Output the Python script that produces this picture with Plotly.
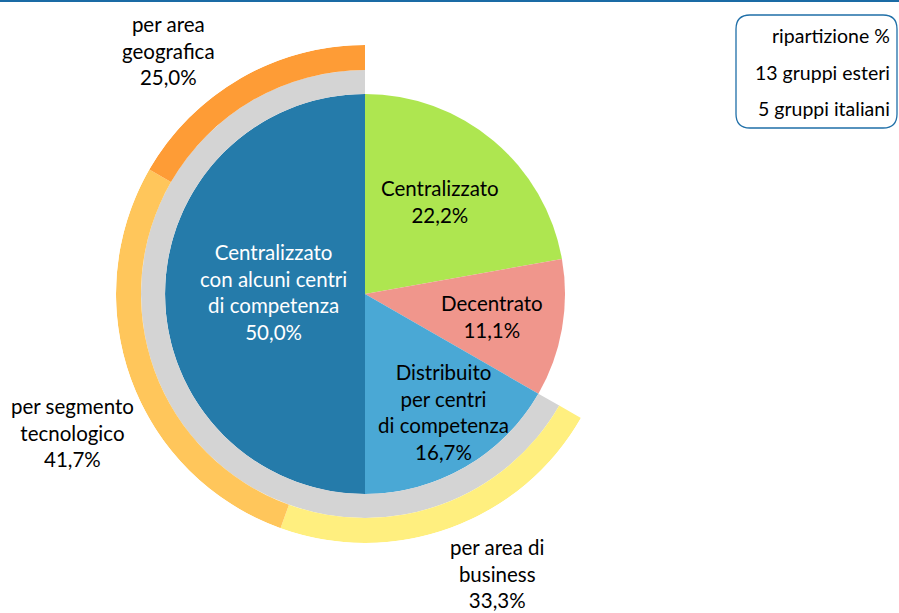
import plotly.graph_objects as go

# Inner pie: organisational model of the groups (share %)
inner_labels = ["Centralizzato", "Decentrato", "Distribuito<br>per centri<br>di competenza",
                "Centralizzato<br>con alcuni centri<br>di competenza"]
inner_values = [22.2, 11.1, 16.7, 50.0]
inner_colors = ["#AEE650", "#F0968C", "#4AA8D5", "#257BAA"]

# Outer ring: breakdown of the competence centres (share %)
outer_labels = ["per area di<br>business", "per segmento<br>tecnologico", "per area<br>geografica"]
outer_values = [33.3, 41.7, 25.0]
outer_colors = ["#FFEF7F", "#FFC65B", "#FE9C36"]

legend_lines = ["ripartizione %", "13 gruppi esteri", "5 gruppi italiani"]

W, H = 899, 613
FONT = "Lato"
LABEL_SIZE = 20.5

# geometry (pixels)
CX, CY = 365, 294
R_PIE, R_GRAY, R_OUT = 200, 224, 249


def px(x):
    return x / W


def py(y):
    return 1 - y / H


def fmt(v):
    return f"{v:.1f}".replace(".", ",") + "%"


fig = go.Figure()

# inner slices, clockwise from 12 o'clock
start = 0.0
inner_theta, inner_width = [], []
for v in inner_values:
    w = v / 100 * 360
    inner_theta.append(start + w / 2)
    inner_width.append(w)
    start += w

fig.add_trace(go.Barpolar(
    r=[R_PIE] * len(inner_values), theta=inner_theta, width=inner_width,
    marker=dict(color=inner_colors, line=dict(width=0)),
    hoverinfo="skip", showlegend=False,
))

# grey ring over the slices that use competence centres
arc_start = sum(inner_values[:2]) / 100 * 360
arc_span = 360 - arc_start
fig.add_trace(go.Barpolar(
    r=[R_GRAY - R_PIE], base=[R_PIE], theta=[arc_start + arc_span / 2], width=[arc_span],
    marker=dict(color="#D4D4D4", line=dict(width=0)),
    hoverinfo="skip", showlegend=False,
))

# outer ring split in the same arc
tot = sum(outer_values)
s = arc_start
outer_theta, outer_width = [], []
for v in outer_values:
    w = v / tot * arc_span
    outer_theta.append(s + w / 2)
    outer_width.append(w)
    s += w

fig.add_trace(go.Barpolar(
    r=[R_OUT - R_GRAY] * len(outer_values), base=[R_GRAY] * len(outer_values),
    theta=outer_theta, width=outer_width,
    marker=dict(color=outer_colors, line=dict(width=0)),
    hoverinfo="skip", showlegend=False,
))

fig.update_layout(
    width=W, height=H,
    margin=dict(l=0, r=0, t=0, b=0),
    paper_bgcolor="white",
    plot_bgcolor="white",
    font=dict(family=FONT, size=LABEL_SIZE, color="black"),
    polar=dict(
        domain=dict(x=[px(CX - R_OUT), px(CX + R_OUT)], y=[py(CY + R_OUT), py(CY - R_OUT)]),
        bgcolor="rgba(0,0,0,0)",
        bargap=0,
        radialaxis=dict(visible=False, range=[0, R_OUT]),
        angularaxis=dict(visible=False, direction="clockwise", rotation=90),
    ),
)

# slice labels
inner_pos = [(440, 201), (492, 316), (443, 412), (273, 292)]
inner_font = ["black", "black", "black", "white"]
for lab, v, (x, y), c in zip(inner_labels, inner_values, inner_pos, inner_font):
    fig.add_annotation(x=px(x), y=py(y), xref="paper", yref="paper",
                       text=f"{lab}<br>{fmt(v)}", showarrow=False,
                       xanchor="center", yanchor="middle",
                       font=dict(family=FONT, size=LABEL_SIZE, color=c))

outer_pos = [(497, 573), (72, 432), (168, 51)]
for lab, v, (x, y) in zip(outer_labels, outer_values, outer_pos):
    fig.add_annotation(x=px(x), y=py(y), xref="paper", yref="paper",
                       text=f"{lab}<br>{fmt(v)}", showarrow=False,
                       xanchor="center", yanchor="middle",
                       font=dict(family=FONT, size=LABEL_SIZE, color="black"))

# legend box
x0, x1, y0, y1, rr = 736, 897, 15, 128, 14
path = (f"M {px(x0 + rr)},{py(y0)} L {px(x1 - rr)},{py(y0)} "
        f"Q {px(x1)},{py(y0)} {px(x1)},{py(y0 + rr)} L {px(x1)},{py(y1 - rr)} "
        f"Q {px(x1)},{py(y1)} {px(x1 - rr)},{py(y1)} L {px(x0 + rr)},{py(y1)} "
        f"Q {px(x0)},{py(y1)} {px(x0)},{py(y1 - rr)} L {px(x0)},{py(y0 + rr)} "
        f"Q {px(x0)},{py(y0)} {px(x0 + rr)},{py(y0)} Z")
fig.add_shape(type="path", path=path, xref="paper", yref="paper",
              line=dict(color="#1F6FA8", width=1.3), fillcolor="white")
for txt, y in zip(legend_lines, [35, 72, 109]):
    fig.add_annotation(x=px(892), y=py(y), xref="paper", yref="paper", text=txt,
                       showarrow=False, xanchor="right", yanchor="middle",
                       font=dict(family=FONT, size=19.5, color="black"))

# top rule
fig.add_shape(type="line", xref="paper", yref="paper", x0=0, x1=1, y0=py(1), y1=py(1),
              line=dict(color="#1A6BA5", width=2))

fig.write_html("out.html")
